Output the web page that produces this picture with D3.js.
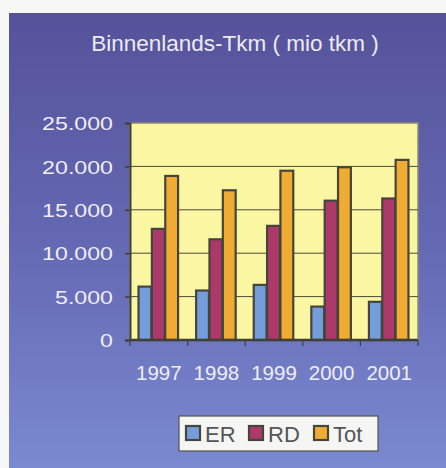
<!DOCTYPE html>
<html>
<head>
<meta charset="utf-8">
<script src="https://cdn.jsdelivr.net/npm/d3@7"></script>
<style>
  body { margin: 0; background: #f7f7f5; }
  svg { display: block; font-family: "Liberation Sans", Arial, sans-serif; }
</style>
</head>
<body>
<svg width="446" height="468"></svg>
<script>
// Chart data
const years = ['1997', '1998', '1999', '2000', '2001'];
const seriesNames = ['ER', 'RD', 'Tot'];
const erValues = [6150, 5700, 6350, 3850, 4400];
const rdValues = [12800, 11600, 13150, 16050, 16300];
const totValues = [18900, 17250, 19500, 19900, 20750];
const yTicks = [0, 5000, 10000, 15000, 20000, 25000];
const colors = { ER: '#739ddb', RD: '#ad386a', Tot: '#f0ac32' };

const valuesBySeries = { ER: erValues, RD: rdValues, Tot: totValues };
const rows = years.map((y, i) => ({
    year: y,
    values: seriesNames.map(s => ({ key: s, value: valuesBySeries[s][i] }))
}));

const svg = d3.select("svg");

// Background panel with gradient
const defs = svg.append("defs");
const grad = defs.append("linearGradient")
    .attr("id", "bg")
    .attr("x1", 0).attr("y1", 0).attr("x2", 0).attr("y2", 1);
grad.append("stop").attr("offset", "0%").attr("stop-color", "#55529a");
grad.append("stop").attr("offset", "50%").attr("stop-color", "#6468b2");
grad.append("stop").attr("offset", "100%").attr("stop-color", "#7a8ad0");

svg.append("rect")
    .attr("x", 9).attr("y", 13)
    .attr("width", 437).attr("height", 455)
    .attr("fill", "url(#bg)");

// Title
svg.append("text")
    .attr("x", 235)
    .attr("y", 51)
    .attr("text-anchor", "middle")
    .attr("fill", "#eceaf4")
    .style("font-size", "22.5px")
    .text("Binnenlands-Tkm ( mio tkm )");

// Plot area
const margin = { top: 123, left: 130 };
const width = 288;
const height = 217;

const g = svg.append("g")
    .attr("transform", `translate(${margin.left},${margin.top})`);

const x0 = d3.scaleBand().domain(years).range([0, width]).paddingInner(0).paddingOuter(0);
const x1 = d3.scaleBand().domain(seriesNames).range([8, x0.bandwidth() - 9]).padding(0.04);
const y = d3.scaleLinear().domain([0, 25000]).range([height, 0]);

g.append("rect")
    .attr("width", width).attr("height", height)
    .attr("fill", "#fbf6a2")
    .attr("stroke", "#8a8a70")
    .attr("stroke-width", 1.5);

// Gridlines
g.append("g")
    .selectAll("line")
    .data(yTicks.slice(1, -1))
    .join("line")
    .attr("x1", 0).attr("x2", width)
    .attr("y1", d => y(d)).attr("y2", d => y(d))
    .attr("stroke", "#4a4a3a")
    .attr("stroke-width", 1);

// Bars
const groups = g.selectAll(".grp")
    .data(rows)
    .join("g")
    .attr("class", "grp")
    .attr("transform", d => `translate(${x0(d.year)},0)`);

groups.selectAll("rect")
    .data(d => d.values)
    .join("rect")
    .attr("x", d => x1(d.key))
    .attr("y", d => y(d.value))
    .attr("width", x1.bandwidth())
    .attr("height", d => height - y(d.value))
    .attr("fill", d => colors[d.key])
    .attr("stroke", "#45453c")
    .attr("stroke-width", 2.2);

// Axes
const stretch = 1.22;
const yAxis = d3.axisLeft(y)
    .tickValues(yTicks)
    .tickSize(5)
    .tickFormat(d => d === 0 ? "0" : d3.format(",")(d).replace(",", "."));
const yg = g.append("g").call(yAxis);
yg.select(".domain").attr("stroke", "#404036").attr("stroke-width", 2);
yg.selectAll(".tick line").attr("stroke", "#404036").attr("stroke-width", 1.5);
yg.selectAll(".tick text")
    .attr("x", -17 / stretch)
    .attr("dy", "0.35em")
    .attr("transform", `scale(${stretch},1)`)
    .attr("fill", "#eeeef6")
    .style("font-size", "19px")
    .style("font-family", "'Liberation Sans', Arial, sans-serif");

const xg = g.append("g").attr("transform", `translate(0,${height})`);
xg.append("line")
    .attr("x1", 0).attr("x2", width)
    .attr("stroke", "#404036").attr("stroke-width", 2.5);
xg.selectAll(".xtick")
    .data(years.concat(["end"]))
    .join("line")
    .attr("class", "xtick")
    .attr("x1", (d, i) => i * x0.bandwidth())
    .attr("x2", (d, i) => i * x0.bandwidth())
    .attr("y1", 0).attr("y2", 6)
    .attr("stroke", "#404036").attr("stroke-width", 1.2);
xg.selectAll(".xlabel")
    .data(years)
    .join("text")
    .attr("class", "xlabel")
    .attr("x", d => x0(d) + x0.bandwidth() / 2)
    .attr("y", 40)
    .attr("text-anchor", "middle")
    .attr("fill", "#eeeef6")
    .style("font-size", "20.5px")
    .text(d => d);

// Legend
const legend = svg.append("g").attr("transform", "translate(179,416)");
legend.append("rect")
    .attr("width", 199).attr("height", 35)
    .attr("fill", "#f5f5f3")
    .attr("stroke", "#55554f")
    .attr("stroke-width", 1.2);

const legendX = [7, 70, 135];
const items = legend.selectAll(".item")
    .data(seriesNames)
    .join("g")
    .attr("class", "item")
    .attr("transform", (d, i) => `translate(${legendX[i]},0)`);
items.append("rect")
    .attr("x", 0).attr("y", 10)
    .attr("width", 14).attr("height", 14)
    .attr("fill", d => colors[d])
    .attr("stroke", "#45453c")
    .attr("stroke-width", 2.2);
items.append("text")
    .attr("x", 19)
    .attr("y", 26)
    .attr("fill", "#555558")
    .style("font-size", "22px")
    .text(d => d);
</script>
</body>
</html>
